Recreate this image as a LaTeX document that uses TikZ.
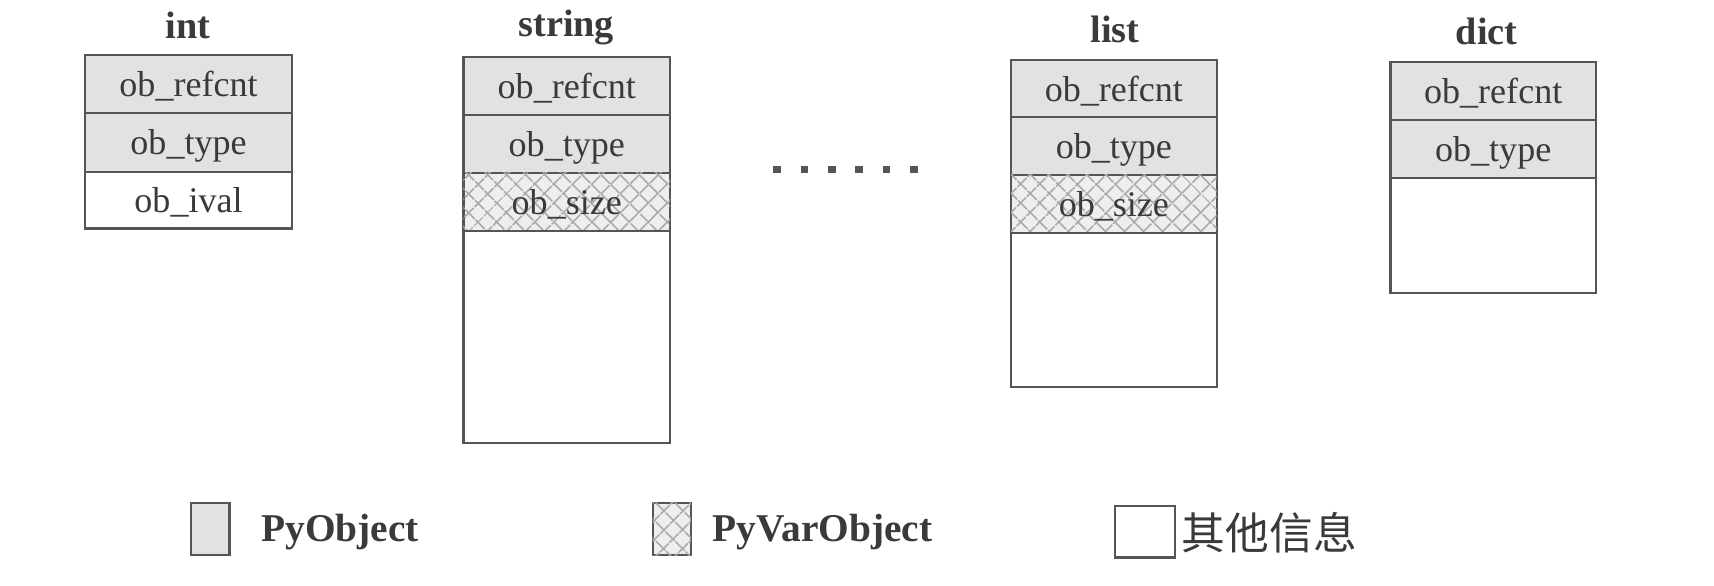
\documentclass[tikz,border=0pt]{standalone}
\usepackage{fontspec}
\setmainfont{Liberation Serif}
\newfontfamily\cjk{Noto Sans CJK SC}
\usetikzlibrary{patterns.meta}
\definecolor{cellgray}{HTML}{E2E2E2}
\definecolor{linegray}{HTML}{555555}
\definecolor{txt}{HTML}{3A3A3A}
\definecolor{hatchgray}{HTML}{A8A8A8}
\begin{document}
\begin{tikzpicture}[x=1pt,y=-1pt,
  basecell/.style={draw=linegray, line width=2pt, anchor=north west, inner sep=0pt, outer sep=0pt,
    text=txt, font=\fontsize{33}{38}\selectfont, text height=26pt, text depth=3pt},
  pycell/.style={basecell, fill=cellgray},
  othercell/.style={basecell, fill=white},
  hatchfill/.style={fill=cellgray!60,
    postaction={pattern={Lines[angle=45,distance=13pt,line width=1.8pt]}, pattern color=hatchgray},
    postaction={pattern={Lines[angle=-45,distance=13pt,line width=1.8pt]}, pattern color=hatchgray}},
  varcell/.style={basecell, hatchfill},
  titlenode/.style={text=txt, font=\bfseries\fontsize{35}{40}\selectfont, inner sep=0pt},
  dotnode/.style={fill=linegray, draw=none, rectangle, minimum size=7pt, inner sep=0pt},
  legbox/.style={draw=linegray, line width=2pt, inner sep=0pt, outer sep=0pt},
  legtext/.style={text=txt, anchor=west, inner sep=0pt, font=\bfseries\fontsize{36}{40}\selectfont}
]
\useasboundingbox[fill=white] (0,0) rectangle (1568,536);

% int
\node[titlenode] (tint) at (172,23) {int};
\node[pycell, minimum width=189pt, minimum height=53pt] (int1) at (78,50) {ob\_refcnt};
\node[pycell, minimum width=189pt, minimum height=54pt] (int2) at (int1.south west) {ob\_type};
\node[othercell, minimum width=189pt, minimum height=52pt] (int3) at (int2.south west) {ob\_ival};

% string
\node[titlenode] (tstr) at (518,25) {string};
\node[pycell, minimum width=189pt, minimum height=53pt] (str1) at (424,52) {ob\_refcnt};
\node[pycell, minimum width=189pt, minimum height=53pt] (str2) at (str1.south west) {ob\_type};
\node[varcell, minimum width=189pt, minimum height=53pt] (str3) at (str2.south west) {ob\_size};
\node[othercell, minimum width=189pt, minimum height=194pt] (str4) at (str3.south west) {};

% dots
\foreach \i in {0,...,5} {
  \node[dotnode] (d\i) at (711+25*\i,155) {};
}

% list
\node[titlenode] (tlist) at (1020,27) {list};
\node[pycell, minimum width=188pt, minimum height=52pt] (lst1) at (925,55) {ob\_refcnt};
\node[pycell, minimum width=188pt, minimum height=53pt] (lst2) at (lst1.south west) {ob\_type};
\node[varcell, minimum width=188pt, minimum height=53pt] (lst3) at (lst2.south west) {ob\_size};
\node[othercell, minimum width=188pt, minimum height=141pt] (lst4) at (lst3.south west) {};

% dict
\node[titlenode] (tdict) at (1360,29) {dict};
\node[pycell, minimum width=188pt, minimum height=53pt] (dct1) at (1272,57) {ob\_refcnt};
\node[pycell, minimum width=188pt, minimum height=53pt] (dct2) at (dct1.south west) {ob\_type};
\node[othercell, minimum width=188pt, minimum height=105pt] (dct3) at (dct2.south west) {};

% legend
\node[legbox, fill=cellgray, minimum width=35pt, minimum height=48pt] (lg1) at (192.5,484) {};
\node[legtext] (lt1) at (239,487) {PyObject};
\node[legbox, hatchfill, minimum width=35pt, minimum height=48pt] (lg2) at (614.5,484) {};
\node[legtext] (lt2) at (652,487) {PyVarObject};
\node[legbox, fill=white, minimum width=55pt, minimum height=47pt] (lg3) at (1047.5,486.5) {};
\node[text=txt, anchor=west, inner sep=0pt, font=\cjk\fontsize{40}{44}\selectfont] (lt3) at (1081,487) {其他信息};
\end{tikzpicture}
\end{document}
